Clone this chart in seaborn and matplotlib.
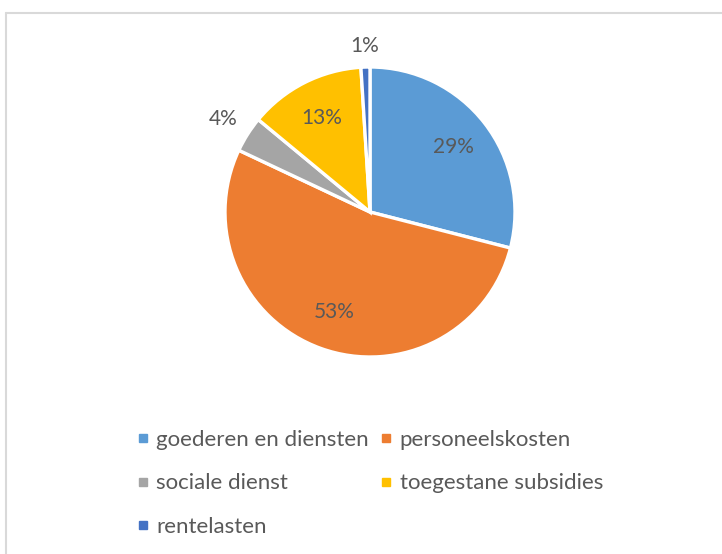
import numpy as np
import matplotlib
matplotlib.use("Agg")
import matplotlib.pyplot as plt
from matplotlib.lines import Line2D
import seaborn as sns

# data
categories = ["goederen en diensten", "personeelskosten", "sociale dienst",
              "toegestane subsidies", "rentelasten"]
shares = [29, 53, 4, 13, 1]
colors = ["#5B9BD5", "#ED7D31", "#A5A5A5", "#FFC000", "#4472C4"]

sns.set_theme(style="white")
plt.rcParams["font.family"] = ["Lato", "DejaVu Sans"]
text_color = "#595959"
palette = sns.color_palette(colors)

fig = plt.figure(figsize=(7.22, 5.54), dpi=100)

# chart frame (light grey border like the office chart area)
fig.add_artist(Line2D([6 / 722, 6 / 722], [0, 1 - 13 / 554], color="#D9D9D9", lw=1.5))
fig.add_artist(Line2D([6 / 722, 1], [1 - 13 / 554, 1 - 13 / 554], color="#D9D9D9", lw=1.5))

radius_px = 145
ax = fig.add_axes([225 / 722, 1 - 357 / 554, 290 / 722, 290 / 554])
wedges, texts, autotexts = ax.pie(
    shares,
    colors=palette,
    startangle=90,
    counterclock=False,
    autopct="%1.0f%%",
    pctdistance=0.73,
    wedgeprops=dict(edgecolor="white", linewidth=2.4),
    textprops=dict(color=text_color, fontsize=15),
)
ax.set_xlim(-1, 1)
ax.set_ylim(-1, 1)
ax.set_aspect("equal")

# small slices get their label outside, pushed out by the label's half size
for w, t, v in zip(wedges, autotexts, shares):
    if v < 5:
        mid = np.deg2rad((w.theta1 + w.theta2) / 2)
        half_w = 7.5 * len(t.get_text())
        half_h = 9
        r = 1.08 + (abs(np.cos(mid)) * half_w + abs(np.sin(mid)) * half_h) / radius_px
        t.set_position((r * np.cos(mid), r * np.sin(mid)))

# legend is filled row by row in the original, matplotlib fills column-wise
order = [0, 2, 4, 1, 3]
handles = [Line2D([], [], marker="s", linestyle="", markersize=6,
                  markerfacecolor=palette[i], markeredgecolor=palette[i]) for i in order]
leg = fig.legend(handles, [categories[i] for i in order], ncol=2, loc="upper left",
                 bbox_to_anchor=(126 / 722, 1 - 419 / 554), frameon=False,
                 fontsize=16, labelcolor=text_color, handlelength=0.5,
                 handletextpad=0.35, columnspacing=0.55, labelspacing=1.05,
                 borderpad=0)

fig.savefig("out.png", dpi=100)
